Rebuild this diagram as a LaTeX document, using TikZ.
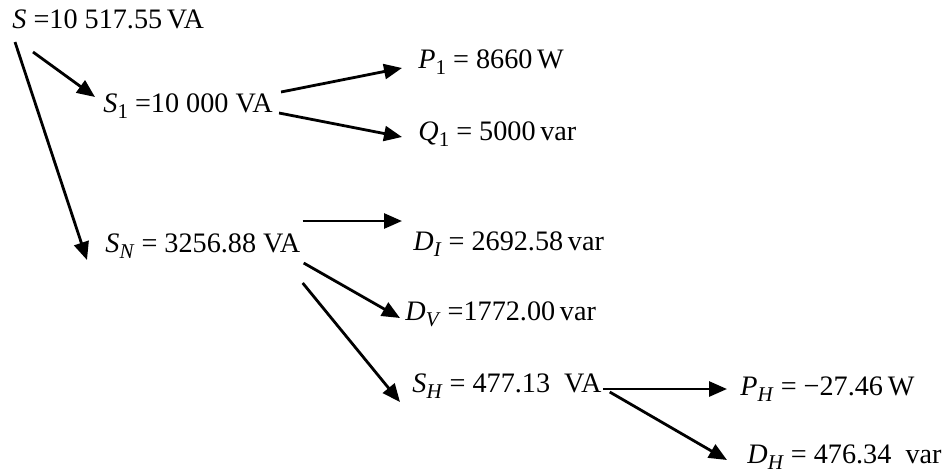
\documentclass[tikz,border=0pt]{standalone}
\usepackage{fontspec}
\setmainfont{Liberation Serif}
\usetikzlibrary{arrows.meta}

% italic symbol with a subscript
\newcommand\symb[2]{\textit{#1}\raisebox{-0.5ex}{\fontsize{10.5}{11}\selectfont #2}}

\begin{document}
\begin{tikzpicture}[x=0.5pt,y=-0.5pt,
        val/.style={anchor=base west,inner sep=0pt,font=\fontsize{14.1}{17}\selectfont},
        flow/.style={line width=1.4pt,-{Triangle[length=9pt,width=7.5pt]}}]
            \useasboundingbox (0,0) rectangle (943,472);

            % Draw the values
            \node[val] (s)  at (12,28)   {\textit{S} =10 517.55\,VA};
            \node[val] (s1) at (103,112) {\symb{S}{1} =10 000 VA};
            \node[val] (p1) at (418,68)  {\symb{P}{1} = 8660\,W};
            \node[val] (q1) at (418,140) {\symb{Q}{1} = 5000\,var};
            \node[val] (sn) at (105,252) {\symb{S}{\textit{N}} = 3256.88 VA};
            \node[val] (di) at (413,250) {\symb{D}{\textit{I}} = 2692.58\,var};
            \node[val] (dv) at (405,320) {\symb{D}{\textit{V}} =1772.00\,var};
            \node[val] (sh) at (412,392) {\symb{S}{\textit{H}} = 477.13 \ VA};
            \node[val] (ph) at (740,395) {\symb{P}{\textit{H}} = −27.46\,W};
            \node[val] (dh) at (747,463) {\symb{D}{\textit{H}} = 476.34 \ var};

            % Draw arrows
            \draw[flow] ([shift={(21,24)}]s.base west)   -- ([shift={(-8,-15)}]s1.base west);
            \draw[flow] ([shift={(3,14)}]s.base west)    -- ([shift={(-18,8)}]sn.base west);
            \draw[flow] ([shift={(8,-20)}]s1.base east)  -- ([shift={(-16,0)}]p1.base west);
            \draw[flow] ([shift={(6,1)}]s1.base east)    -- ([shift={(-16,-3)}]q1.base west);
            \draw[flow] ([shift={(2,-31)}]sn.base east)  -- ([shift={(-11,-29)}]di.base west);
            \draw[flow] ([shift={(3,11)}]sn.base east)   -- ([shift={(-5,-2)}]dv.base west);
            \draw[flow] ([shift={(2,31)}]sn.base east)   -- ([shift={(-12,10)}]sh.base west);
            \draw[flow] ([shift={(1,-3)}]sh.base east)   -- ([shift={(-13,-6)}]ph.base west);
            \draw[flow] ([shift={(8,0)}]sh.base east)    -- ([shift={(-20,-3)}]dh.base west);
        \end{tikzpicture}
\end{document}
